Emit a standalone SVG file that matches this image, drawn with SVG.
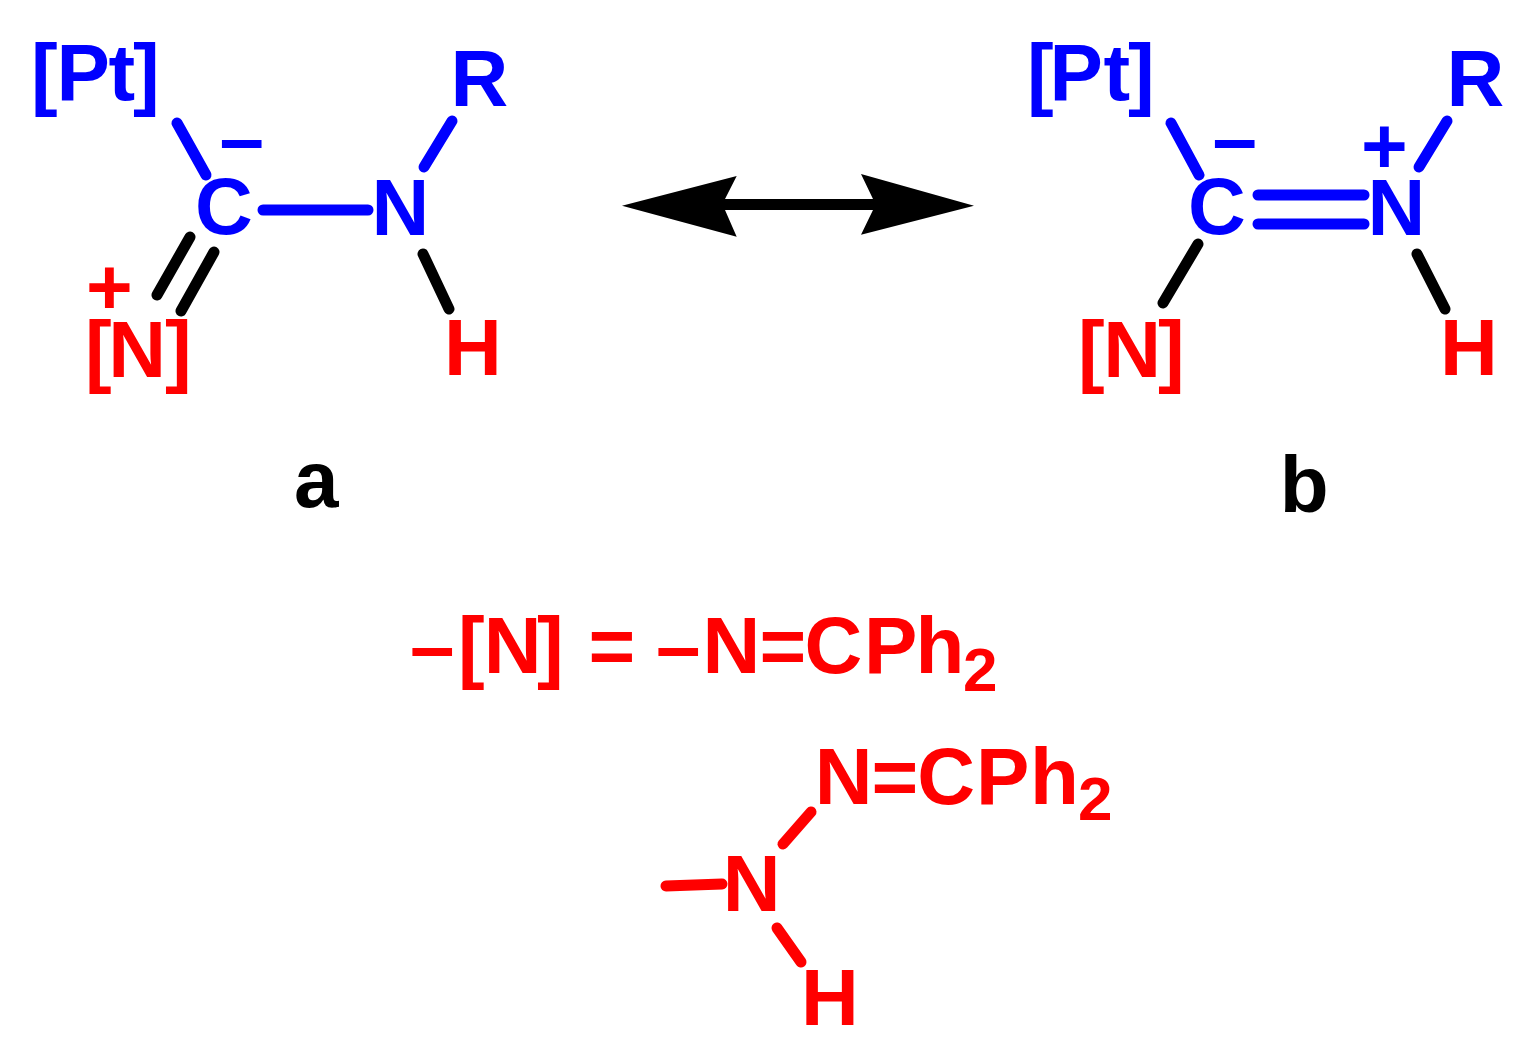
<svg xmlns="http://www.w3.org/2000/svg" width="1537" height="1053" viewBox="0 0 1537 1053">
<style>
text{font-family:"Liberation Sans",Arial,sans-serif;font-weight:700;font-size:80px}
.b{fill:#0000ff}.r{fill:#ff0000}.k{fill:#000}
.sub{font-size:62px}
line{stroke-width:11;stroke-linecap:round;fill:none}
.lb{stroke:#0000ff}.lr{stroke:#ff0000}.lk{stroke:#000}
</style>
<rect width="1537" height="1053" fill="#fff"/>
<g id="connectors">
<line class="lb" x1="177" y1="123" x2="206" y2="175"/>
<line class="lb" x1="263" y1="210" x2="368" y2="210"/>
<line class="lb" x1="424" y1="167" x2="452" y2="121"/>
<line class="lk" x1="190" y1="237" x2="157" y2="295"/>
<line class="lk" x1="214" y1="252" x2="181" y2="311"/>
<line class="lk" x1="423" y1="254" x2="449" y2="309"/>
<line class="lb" x1="1171" y1="123" x2="1199" y2="175"/>
<line class="lb" x1="1258" y1="195" x2="1364" y2="195"/>
<line class="lb" x1="1258" y1="224" x2="1364" y2="224"/>
<line class="lb" x1="1419" y1="167" x2="1447" y2="121"/>
<line class="lk" x1="1198" y1="244" x2="1163" y2="303"/>
<line class="lk" x1="1417" y1="254" x2="1445" y2="309"/>
<line class="lr" x1="811" y1="812" x2="783" y2="844"/>
<line class="lr" x1="722" y1="884" x2="666" y2="886"/>
<line class="lr" x1="777" y1="928" x2="801" y2="962"/>
<polygon class="k" points="622,205.7 736.7,176 725,199 873,199 861,174 974,205.7 861,234.7 873,210 725,210 736.7,236.7"/>
</g>
<g id="node-a-pt"><text class="b" x="31 56.5 108.5 133" y="100">[Pt]</text></g>
<g id="node-a-c"><text class="b" x="195" y="234">C</text><text class="b" x="219.5" y="165">–</text></g>
<g id="node-a-n"><text class="b" x="371.5" y="235">N</text></g>
<g id="node-a-r"><text class="b" x="450.5" y="106">R</text></g>
<g id="node-a-nr"><text class="r" x="85 108.2 165" y="377">[N]</text><text class="r" x="86" y="314">+</text></g>
<g id="node-a-h"><text class="r" x="444" y="375">H</text></g>
<g id="label-a"><text class="k" x="294" y="507">a</text></g>
<g id="node-b-pt"><text class="b" x="1027 1049.5 1103.5 1128" y="100">[Pt]</text></g>
<g id="node-b-c"><text class="b" x="1188" y="234">C</text><text class="b" x="1212.5" y="165">–</text></g>
<g id="node-b-n"><text class="b" x="1367.5" y="235">N</text><text class="b" x="1361" y="173">+</text></g>
<g id="node-b-r"><text class="b" x="1446.5" y="106">R</text></g>
<g id="node-b-nr"><text class="r" x="1078 1103.2 1158" y="377">[N]</text></g>
<g id="node-b-h"><text class="r" x="1440" y="375">H</text></g>
<g id="label-b"><text class="k" x="1279.7" y="512">b</text></g>
<g id="legend"><text class="r" y="673"><tspan x="410 458 483.7 537">–[N]</tspan><tspan x="588.5">=</tspan><tspan x="656 702.5 759.5 804.5 864 915.5">–N=CPh</tspan></text><text class="r sub" x="963" y="690.5">2</text></g>
<g id="node-sub-n2"><text class="r" x="814.8 871.6 917.3 976 1030" y="803.7">N=CPh</text><text class="r sub" x="1078" y="820">2</text></g>
<g id="node-sub-n"><text class="r" x="722.8" y="910.7">N</text></g>
<g id="node-sub-h"><text class="r" x="801" y="1024.7">H</text></g>
</svg>
